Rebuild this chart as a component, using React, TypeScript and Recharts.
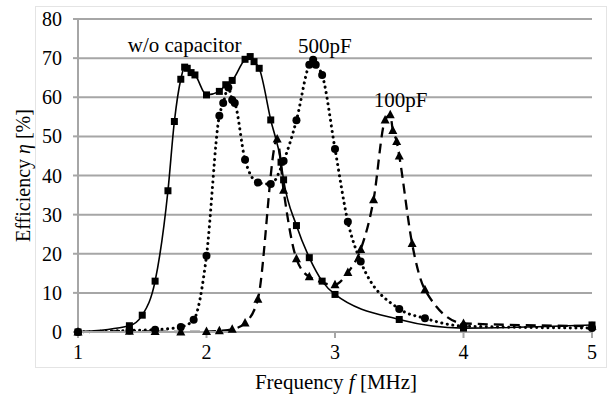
import { LineChart, Line, XAxis, YAxis, CartesianGrid, ReferenceDot, Label } from 'recharts';

// w/o capacitor (squares, solid)
const freqWo = [1, 1.4, 1.5, 1.6, 1.7, 1.75, 1.8, 1.83, 1.85, 1.88, 1.91, 2.0, 2.1, 2.15, 2.2, 2.3, 2.34, 2.37, 2.41, 2.5, 2.58, 2.6, 2.7, 2.8, 2.9, 3.0, 3.5, 4.0, 5.0];
const effWo = [0, 1.6, 4.3, 13.0, 36.1, 53.8, 64.6, 67.7, 67.4, 66.3, 65.7, 60.6, 61.5, 63.2, 64.3, 69.7, 70.4, 69.1, 67.4, 54.2, 43.4, 38.9, 27.2, 19.0, 13.0, 9.6, 3.2, 1.0, 1.8];

// 500pF (circles, dotted)
const freq500 = [1, 1.4, 1.6, 1.8, 1.9, 2.0, 2.1, 2.13, 2.17, 2.2, 2.22, 2.3, 2.4, 2.5, 2.6, 2.7, 2.8, 2.83, 2.85, 2.9, 3.0, 3.1, 3.2, 3.5, 3.7, 4.0, 5.0];
const eff500 = [0, 0.4, 0.6, 1.3, 3.1, 19.5, 55.3, 58.5, 62.5, 59.3, 58.5, 44.0, 38.2, 37.8, 43.7, 54.1, 68.3, 69.6, 68.3, 65.7, 46.8, 28.2, 18.0, 5.9, 3.5, 1.5, 1.0];

// 100pF (triangles, dashed)
const freq100 = [1, 1.4, 1.6, 1.8, 2.0, 2.1, 2.2, 2.3, 2.4, 2.55, 2.6, 2.7, 2.8, 3.0, 3.1, 3.2, 3.3, 3.39, 3.43, 3.45, 3.48, 3.5, 3.6, 3.7, 4.0, 5.0];
const eff100 = [0, 0.2, 0.1, 0, 0.1, 0.3, 0.7, 2.3, 8.4, 49.3, 36.2, 18.7, 14.1, 12.1, 15.2, 21.1, 33.8, 54.2, 55.5, 51.5, 48.7, 45.0, 22.6, 10.8, 2.2, 1.5];

const xTicks = [1, 2, 3, 4, 5];
const yTicks = [0, 10, 20, 30, 40, 50, 60, 70, 80];

const toRows = (fs: number[], es: number[]) => fs.map((f, i) => ({ f, eta: es[i] }));
const woData = toRows(freqWo, effWo);
const c500Data = toRows(freq500, eff500);
const c100Data = toRows(freq100, eff100);

const FONT = '"Liberation Serif", "Times New Roman", serif';
const GRID = '#a6a6a6';

const SquareDot = (p: any) => {
  if (p.cx == null || p.cy == null) return null;
  return <rect key={p.index} x={p.cx - 3.5} y={p.cy - 3.5} width={7} height={7} fill="#000" />;
};
const CircleDot = (p: any) => {
  if (p.cx == null || p.cy == null) return null;
  return <circle key={p.index} cx={p.cx} cy={p.cy} r={4} fill="#000" />;
};
const TriDot = (p: any) => {
  if (p.cx == null || p.cy == null) return null;
  const { cx, cy } = p;
  return <path key={p.index} d={`M${cx},${cy - 5}L${cx + 4.5},${cy + 3.5}L${cx - 4.5},${cy + 3.5}Z`} fill="#000" />;
};

const note = (text: string) => (props: any) => {
  const { x, y, width, height } = props.viewBox;
  return (
    <text x={x + width / 2} y={y + height / 2} textAnchor="middle" dominantBaseline="central"
      fontFamily={FONT} fontSize={21} fill="#000">{text}</text>
  );
};

export default function App() {
  return (
    <div style={{ position: 'absolute', left: 0, top: 0, width: 614, height: 397, background: '#fff' }}>
      <div style={{ position: 'absolute', left: 35, top: 6, width: 570, height: 360, border: '1px solid #e4e4e4' }} />
      <div style={{ position: 'absolute', left: 0, top: 0 }}>
        <LineChart width={614} height={397} margin={{ top: 19, right: 22, left: 0, bottom: 0 }}>
          <CartesianGrid horizontal vertical={false} stroke={GRID} strokeWidth={2} />
          <XAxis type="number" dataKey="f" domain={[1, 5]} ticks={xTicks} height={65}
            axisLine={{ stroke: GRID, strokeWidth: 2 }} tickLine={{ stroke: GRID, strokeWidth: 2 }} tickSize={6} tickMargin={7}
            tick={{ fontFamily: FONT, fontSize: 20, fill: '#000' }}>
            <Label content={(props: any) => {
              const { x, width } = props.viewBox;
              return (
                <text x={x + width / 2 + 1} y={382} textAnchor="middle" dominantBaseline="central" fontFamily={FONT} fontSize={21} fill="#000">
                  Frequency <tspan fontStyle="italic">f</tspan> [MHz]
                </text>
              );
            }} />
          </XAxis>
          <YAxis type="number" domain={[0, 80]} ticks={yTicks} width={78}
            axisLine={{ stroke: GRID, strokeWidth: 2 }} tickLine={{ stroke: GRID, strokeWidth: 2 }} tickSize={5} tickMargin={11}
            tick={{ fontFamily: FONT, fontSize: 20, fill: '#000' }}>
            <Label content={(props: any) => {
              const { y, height } = props.viewBox;
              const cy = y + height / 2;
              return (
                <text x={23} y={cy} transform={`rotate(-90 23 ${cy})`} textAnchor="middle" dominantBaseline="central" fontFamily={FONT} fontSize={20} fill="#000">
                  Efficiency <tspan fontStyle="italic">η</tspan> [%]
                </text>
              );
            }} />
          </YAxis>
          <Line data={woData} dataKey="eta" type="monotone" stroke="#000" strokeWidth={1.6}
            dot={SquareDot} activeDot={false} isAnimationActive={false} />
          <Line data={c500Data} dataKey="eta" type="monotone" stroke="#000" strokeWidth={3}
            strokeDasharray="0.1 5.5" strokeLinecap="round" dot={CircleDot} activeDot={false} isAnimationActive={false} />
          <Line data={c100Data} dataKey="eta" type="monotone" stroke="#000" strokeWidth={2.3}
            strokeDasharray="10 6" dot={TriDot} activeDot={false} isAnimationActive={false} />
          <ReferenceDot x={1.83} y={73.4} r={0} label={{ content: note('w/o capacitor') }} />
          <ReferenceDot x={2.92} y={73.2} r={0} label={{ content: note('500pF') }} />
          <ReferenceDot x={3.51} y={59.2} r={0} label={{ content: note('100pF') }} />
        </LineChart>
      </div>
    </div>
  );
}
